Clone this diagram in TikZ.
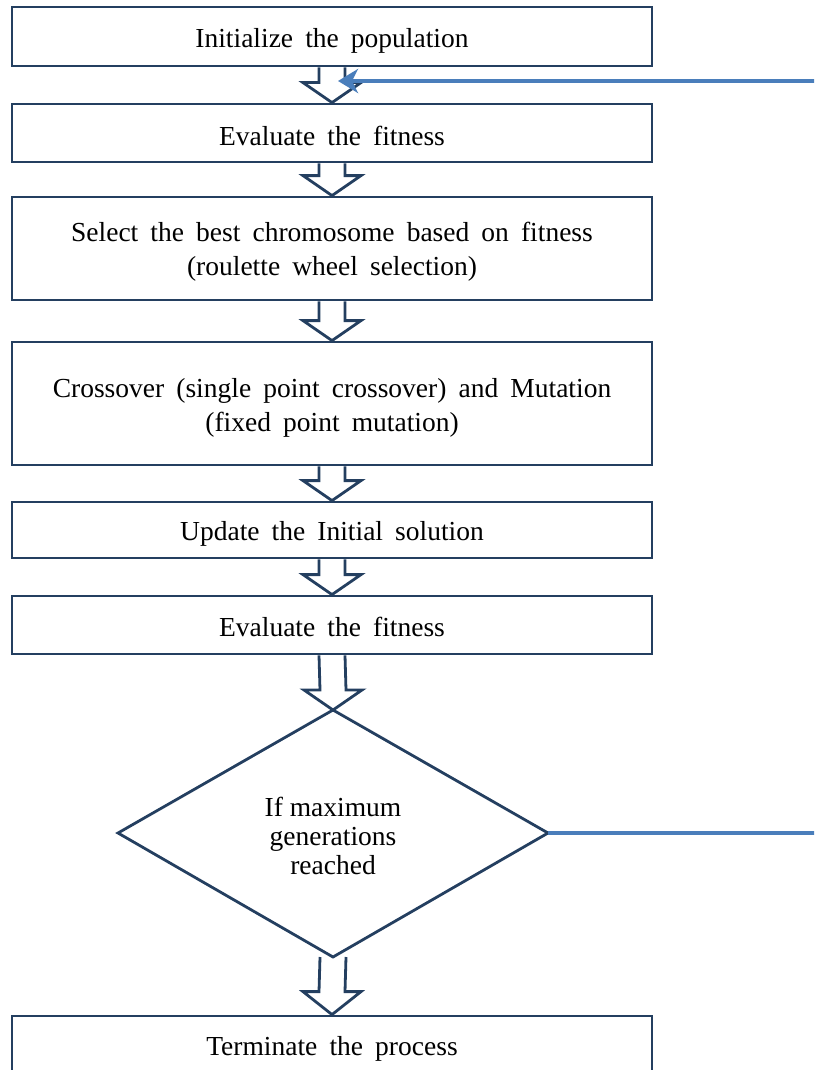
\documentclass[tikz,border=0pt]{standalone}
\usepackage{fontspec}
\setmainfont{Liberation Serif}
\usetikzlibrary{calc,arrows.meta,backgrounds}
\definecolor{boxline}{HTML}{243F60}
\definecolor{loopblue}{HTML}{4A7EBB}
\newcommand\boxfont{\fontsize{27.5}{34}\selectfont\spaceskip=0.44em plus 0.1em\relax}
\newcommand\decfont{\fontsize{27.5}{29}\selectfont}
\tikzset{
  stepbox/.style={draw=boxline, line width=2.8pt, fill=white, minimum width=640pt, inner sep=0pt},
  steptext/.style={inner sep=0pt, align=center, font=\boxfont},
  hollow/.style={draw=boxline, line width=2.8pt, fill=white, line join=miter},
  decline/.style={draw=boxline, line width=2.8pt, line join=miter},
  loopline/.style={draw=loopblue, line width=3.5pt},
  dectext/.style={align=center, inner sep=0pt, font=\decfont},
}
\newcommand\hollowarrow[3]{%
  \path[hollow] ($(#1)+(-13,0)$) -- ($(#2)+(-13,#3)$) -- ($(#2)+(-29,#3)$) -- (#2)
    -- ($(#2)+(29,#3)$) -- ($(#2)+(13,#3)$) -- ($(#1)+(13,0)$);
}
\begin{document}
\begin{tikzpicture}[x=1pt,y=1pt]
\path[use as bounding box, clip] (0,0) rectangle (814,-1070);

\node[stepbox, minimum height=59pt] (b1) at (332,-36.5) {};
\node[stepbox, minimum height=58pt] (b2) at (332,-133) {};
\node[stepbox, minimum height=103pt] (b3) at (332,-248.5) {};
\node[stepbox, minimum height=123pt] (b4) at (332,-403.5) {};
\node[stepbox, minimum height=56pt] (b5) at (332,-530) {};
\node[stepbox, minimum height=58pt] (b6) at (332,-625) {};
\node[stepbox, minimum height=62pt] (b7) at (332,-1047) {};

\node[steptext] (t1) at ($(b1.center)+(0,-4.5)$) {Initialize the population};
\node[steptext] (t2) at ($(b2.center)+(0,-3)$) {Evaluate the fitness};
\node[steptext] (t3) at ($(b3.center)+(0,-3.5)$) {Select the best chromosome based on fitness\\(roulette wheel selection)};
\node[steptext] (t4) at ($(b4.center)+(0,-4)$) {Crossover (single point crossover) and Mutation\\(fixed point mutation)};
\node[steptext] (t5) at ($(b5.center)+(0,-4)$) {Update the Initial solution};
\node[steptext] (t6) at ($(b6.center)+(0,-2)$) {Evaluate the fitness};
\node[steptext] (t7) at ($(b7.center)+(0,-1.5)$) {Terminate the process};

\coordinate (dt) at (333,-710);
\coordinate (dl) at (118,-833);
\coordinate (db) at (333,-957);
\coordinate (dr) at (548,-833);
\draw[decline] (dt) -- (dl) -- (db) -- (dr) -- cycle;
\node[dectext] (d) at (333,-836) {If maximum\\generations\\reached};

\begin{pgfonlayer}{background}
\hollowarrow{b1.south}{b2.north}{20}
\hollowarrow{b2.south}{b3.north}{20}
\hollowarrow{b3.south}{b4.north}{20}
\hollowarrow{b4.south}{b5.north}{20}
\hollowarrow{b5.south}{b6.north}{20}
\hollowarrow{b6.south}{dt}{20}
\hollowarrow{db}{b7.north}{23}
\end{pgfonlayer}

\coordinate (loopstart) at (816,-81);
\coordinate (looptip) at (338,-81);
\coordinate (loopend) at (816,-833);
\draw[loopline, -{Stealth[length=20pt,width=24pt,inset=6pt]}] (loopstart) -- (looptip);
\draw[loopline] (dr) -- (loopend);
\end{tikzpicture}
\end{document}
